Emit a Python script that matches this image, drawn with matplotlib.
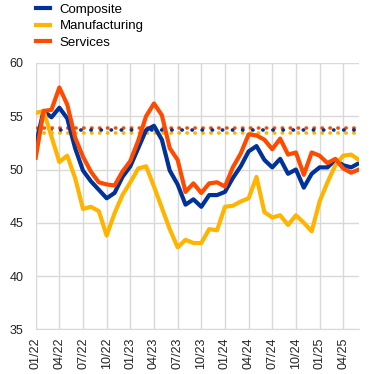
import matplotlib.pyplot as plt

# Data (monthly, 01/22 - 06/25)
composite = [52.3, 55.5, 54.9, 55.8, 54.8, 52.0, 49.9, 48.9, 48.1, 47.3, 47.8, 49.3,
             50.3, 52.0, 53.7, 54.1, 52.8, 49.9, 48.6, 46.7, 47.2, 46.5, 47.6, 47.6,
             47.9, 49.2, 50.3, 51.7, 52.2, 50.9, 50.2, 51.0, 49.6, 50.0, 48.3, 49.6,
             50.2, 50.2, 50.9, 50.4, 50.2, 50.6]
manufacturing = [55.3, 55.5, 53.1, 50.7, 51.3, 49.2, 46.3, 46.5, 46.1, 43.8, 45.9, 47.6,
                 48.8, 50.1, 50.3, 48.4, 46.4, 44.4, 42.7, 43.4, 43.1, 43.1, 44.4, 44.3,
                 46.5, 46.6, 47.0, 47.3, 49.3, 46.0, 45.5, 45.7, 44.8, 45.7, 45.0, 44.2,
                 47.0, 48.8, 50.4, 51.3, 51.4, 50.9]
services = [51.1, 55.5, 55.6, 57.7, 56.1, 53.0, 51.2, 49.8, 48.8, 48.6, 48.5, 49.8,
            50.8, 52.7, 55.0, 56.2, 55.1, 52.0, 50.9, 47.9, 48.7, 47.8, 48.7, 48.8,
            48.4, 50.2, 51.5, 53.3, 53.2, 52.8, 51.9, 52.9, 51.4, 51.6, 49.5, 51.6,
            51.3, 50.6, 51.0, 50.1, 49.7, 50.0]
avg_composite = 53.7
avg_manufacturing = 53.45
avg_services = 53.9
tick_labels = ["01/22", "04/22", "07/22", "10/22", "01/23", "04/23", "07/23",
               "10/23", "01/24", "04/24", "07/24", "10/24", "01/25", "04/25"]

blue = "#003299"
yellow = "#FFB400"
orange = "#FF4B00"

plt.rcParams['font.family'] = ['Liberation Sans', 'DejaVu Sans']
plt.rcParams['font.size'] = 9

fig = plt.figure(figsize=(3.73, 3.74), dpi=100)
ax = fig.add_axes([0.0957, 0.1195, 0.8668, 0.7121])

x = list(range(len(composite)))
xr = [0, len(composite) - 1]

# long-run averages (dotted)
ax.plot(xr, [avg_services] * 2, color=orange, lw=2.6, ls=(0.0, (0.1, 2.1)),
        dash_capstyle='round', zorder=2)
ax.plot(xr, [avg_manufacturing] * 2, color=yellow, lw=2.6, ls=(0.0, (0.1, 2.1)),
        dash_capstyle='round', zorder=2)
ax.plot(xr, [avg_composite] * 2, color=blue, lw=2.6, ls=(-1.2, (0.1, 2.7)),
        dash_capstyle='round', zorder=2)

ax.plot(x, composite, color=blue, lw=3, label="Composite", zorder=3)
ax.plot(x, manufacturing, color=yellow, lw=3, label="Manufacturing", zorder=3)
ax.plot(x, services, color=orange, lw=3, label="Services", zorder=4)

ax.set_xlim(0, len(composite) - 1)
ax.set_ylim(35, 60)
ax.set_yticks([35, 40, 45, 50, 55, 60])
ax.set_xticks(range(0, len(composite), 3))
ax.set_xticklabels(tick_labels, rotation=90)
ax.tick_params(axis='both', length=0, labelsize=9, colors='#222222')
ax.tick_params(axis='y', pad=9)
ax.tick_params(axis='x', pad=6)
ax.grid(True, color='#d9d9d9', lw=1)
ax.set_axisbelow(True)
for s in ['top', 'right', 'left']:
    ax.spines[s].set_visible(False)
ax.spines['bottom'].set_color('#d9d9d9')

fig.legend(loc='upper left', bbox_to_anchor=(0.0965, 0.99), frameon=False,
           borderpad=0, borderaxespad=0, handlelength=1.05, handletextpad=0.75,
           labelspacing=0.32, fontsize=9.5)

fig.savefig("out.png", dpi=100)
